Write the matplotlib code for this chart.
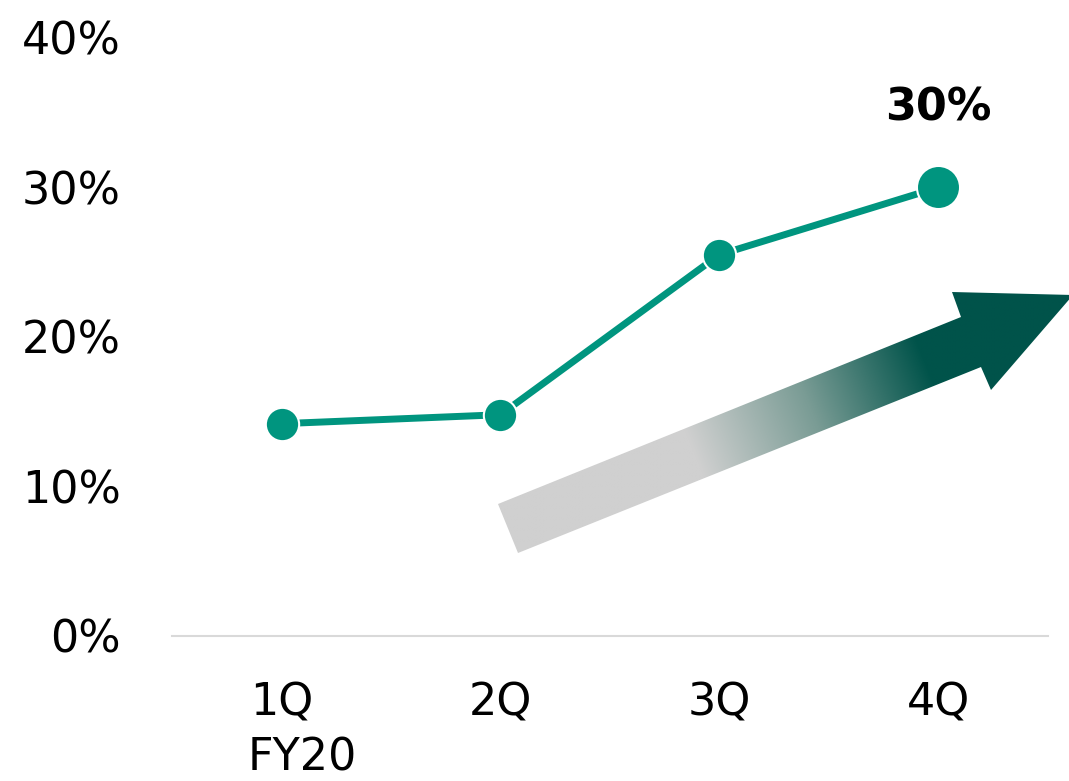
import numpy as np
import matplotlib
matplotlib.use("Agg")
import matplotlib.pyplot as plt
from matplotlib.colors import LinearSegmentedColormap
from matplotlib.patches import Polygon

quarters = ["1Q", "2Q", "3Q", "4Q"]
share = [14.2, 14.8, 25.5, 30.0]
yticks = [0, 10, 20, 30, 40]
year_label = "FY20"
last_label = "30%"

green = "#00957f"
dark = "#00534a"

fig = plt.figure(figsize=(10.69, 7.81), dpi=100)
ax = fig.add_axes([0.161, 0.1857, 0.819, 0.7657])
x = np.arange(len(quarters))

ax.plot(x[:3], share[:3], color=green, lw=5, marker="o", ms=24,
        mec="white", mew=1.5, solid_capstyle="butt", zorder=3)
ax.plot(x[2:], share[2:], color=green, lw=5, solid_capstyle="butt", zorder=2)
ax.plot(x[3], share[3], "o", color=green, ms=31, mec="white", mew=1.5, zorder=4)
ax.annotate(last_label, (x[3], share[3]), xytext=(0, 57), textcoords="offset points",
            ha="center", va="center", fontsize=32, fontweight="bold")

ax.set_xlim(-0.5, 3.5)
ax.set_ylim(0, 40)
ax.set_yticks(yticks)
ax.set_yticklabels([f"{v}%" for v in yticks])
ax.set_xticks(x)
ax.set_xticklabels(quarters)
ax.tick_params(length=0, labelsize=32)
ax.tick_params(axis="y", pad=37)
ax.tick_params(axis="x", pad=33)
for s in ["top", "right", "left"]:
    ax.spines[s].set_visible(False)
ax.spines["bottom"].set_color("#d9d9d9")
ax.spines["bottom"].set_linewidth(1.5)
ax.text(-0.155, -0.225, year_label, transform=ax.get_xaxis_transform(),
        ha="left", va="baseline", fontsize=32)

# gradient arrow overlay (pixel coordinates)
ov = fig.add_axes([0, 0, 1, 1])
ov.set_xlim(0, 1069)
ov.set_ylim(781, 0)
ov.axis("off")
ov.patch.set_visible(False)
pts = [(498, 504), (961, 317), (952, 292), (1073, 295), (991, 390), (981, 367), (518, 553)]
poly = Polygon(pts, closed=True, fc="none", ec="none")
ov.add_patch(poly)
gx, gy = np.meshgrid(np.linspace(490, 1075, 600), np.linspace(285, 560, 300))
u = np.array([463.0, -187.0])
u = u / np.linalg.norm(u)
t = (gx - 508) * u[0] + (gy - 528) * u[1]
cmap = LinearSegmentedColormap.from_list("g", ["#d0d0d0", "#7a9c95", dark])
img = ov.imshow(t, extent=(490, 1075, 560, 285), cmap=cmap, vmin=200, vmax=450,
                origin="upper", aspect="auto", interpolation="bilinear")
img.set_clip_path(poly)
ov.set_xlim(0, 1069)
ov.set_ylim(781, 0)

fig.savefig("out.png", dpi=100)
